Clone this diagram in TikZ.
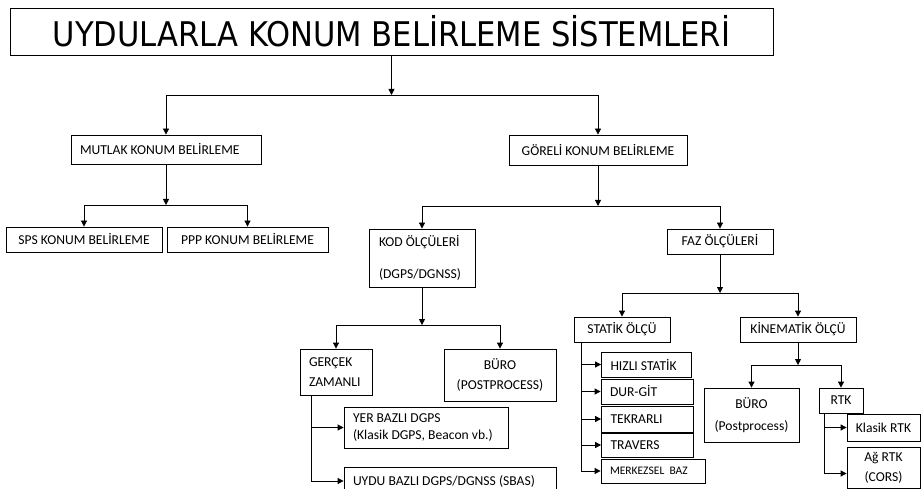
\documentclass[tikz,border=0pt]{standalone}
\usepackage{fontspec}
\setmainfont{Carlito}
\newfontfamily\titlefont{DejaVu Sans Condensed}
\usetikzlibrary{arrows.meta}
\usetikzlibrary{math}

\tikzset{
    box/.style={draw=black, line width=0.8pt, inner sep=0pt, font=\fontsize{13.6}{20}\selectfont},
    arr/.style={black, line width=0.8pt, -{Triangle[length=6pt,width=6pt]}},
}

\begin{document}
\begin{tikzpicture}[x=1pt, y=-1pt]
\useasboundingbox (0,0) rectangle (921,489);

% Position settings
\tikzmath{
    \RailG = 12;
    \RailS = 8;
    \RailR = 6;
}

% Draws title
\node [box, minimum width=763, minimum height=47, font=\titlefont\fontsize{34}{40}\selectfont] (title) at (391.5,31.5) {UYDULARLA KONUM BELİRLEME SİSTEMLERİ};

% Draws first level
\node [box, minimum width=190, minimum height=29, text width=172, inner xsep=9, align=flush left] (mutlak) at (166,149.5) {MUTLAK KONUM BELİRLEME};
\node [box, minimum width=178, minimum height=30] (goreli) at (598,150) {GÖRELİ KONUM BELİRLEME};

% Draws second level
\node [box, minimum width=156, minimum height=25] (sps) at (84,239.5) {SPS KONUM BELİRLEME};
\node [box, minimum width=161, minimum height=25] (ppp) at (247.5,239.5) {PPP KONUM BELİRLEME};
\node [box, minimum width=106, minimum height=58, text width=86, inner xsep=10, align=flush left] (kod) at (422,258) {KOD ÖLÇÜLERİ\\[12pt](DGPS/DGNSS)};
\node [box, minimum width=106, minimum height=25] (faz) at (720,241.5) {FAZ ÖLÇÜLERİ};

% Draws code branch
\node [box, minimum width=72, minimum height=46, text width=54, inner xsep=9, align=flush left] (gercek) at (336,372) {GERÇEK\\ZAMANLI};
\node [box, minimum width=112, minimum height=52, align=flush center] (buroa) at (500,375) {BÜRO\\(POSTPROCESS)};
\node [box, minimum width=164, minimum height=41, text width=146, inner xsep=9, align=flush left, font=\fontsize{13.6}{17}\selectfont] (yer) at (426,427.5) {YER BAZLI DGPS\\(Klasik DGPS, Beacon vb.)};
\node [box, minimum width=212, minimum height=28, text width=194, inner xsep=9, align=flush left] (uydu) at (450,481) {UYDU BAZLI DGPS/DGNSS (SBAS)};

% Draws phase branch
\node [box, minimum width=96, minimum height=25] (statik) at (622,329.5) {STATİK ÖLÇÜ};
\node [box, minimum width=116, minimum height=25] (kinem) at (798,329.5) {KİNEMATİK ÖLÇÜ};
\node [box, minimum width=90, minimum height=25, text width=72, inner xsep=9, align=flush left] (hizli) at (646.5,364.5) {HIZLI STATİK};
\node [box, minimum width=92, minimum height=25, text width=74, inner xsep=9, align=flush left] (durgit) at (647,391.5) {DUR-GİT};
\node [box, minimum width=92, minimum height=26, text width=74, inner xsep=9, align=flush left] (tekrar) at (647.5,419) {TEKRARLI};
\node [box, minimum width=92, minimum height=24, text width=74, inner xsep=9, align=flush left] (travers) at (647.5,445) {TRAVERS};
\node [box, minimum width=104, minimum height=24, text width=86, inner xsep=9, align=flush left, font=\fontsize{11.5}{14}\selectfont] (merkez) at (653,471) {MERKEZSEL\ \ BAZ};
\node [box, minimum width=95, minimum height=54, align=flush center, font=\fontsize{13.6}{22}\selectfont] (burob) at (751.5,415) {BÜRO\\(Postprocess)};
\node [box, minimum width=44, minimum height=25] (rtk) at (841,400.5) {RTK};
\node [box, minimum width=73, minimum height=27] (klasik) at (883.5,427.5) {Klasik RTK};
\node [box, minimum width=73, minimum height=41, align=flush center] (ag) at (883.5,467.5) {Ağ RTK\\(CORS)};

% Junctions
\coordinate (j1) at (391.5,95);
\coordinate (j2) at (166,205);
\coordinate (j3) at (598,206);
\coordinate (j4) at (422,325);
\coordinate (j5) at (720,293);
\coordinate (j6) at (798,365);

% Draws tree connectors
\draw [arr] (title.south) -- (j1);
\draw [arr] (j1) -| (mutlak);
\draw [arr] (j1) -| (goreli);
\draw [arr] (mutlak.south) -- (j2);
\draw [arr] (j2) -| (sps);
\draw [arr] (j2) -| (ppp);
\draw [arr] (goreli.south) -- (j3);
\draw [arr] (j3) -| (kod);
\draw [arr] (j3) -| (faz);
\draw [arr] (kod.south) -- (j4);
\draw [arr] (j4) -| (gercek);
\draw [arr] (j4) -| (buroa);
\draw [arr] (faz.south) -- (j5);
\draw [arr] (j5) -| (statik);
\draw [arr] (j5) -| (kinem);
\draw [arr] (kinem.south) -- (j6);
\draw [arr] (j6) -| (burob);
\draw [arr] (j6) -| (rtk);

% Draws side rails
\draw [arr] ([xshift=\RailG]gercek.south west) |- (yer.west);
\draw [arr] ([xshift=\RailG]gercek.south west) |- (uydu.west);
\foreach \n in {hizli, durgit, tekrar, travers, merkez}
    \draw [arr] ([xshift=\RailS]statik.south west) |- (\n.west);
\draw [arr] ([xshift=\RailR]rtk.south west) |- (klasik.west);
\draw [arr] ([xshift=\RailR]rtk.south west) |- ([yshift=-6]ag.west);

\end{tikzpicture}
\end{document}
